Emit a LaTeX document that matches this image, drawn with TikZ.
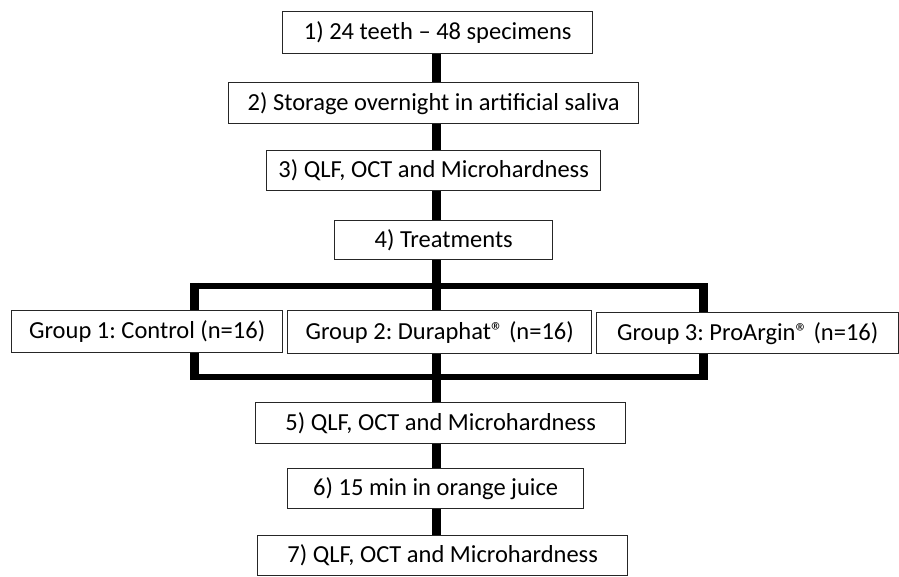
\documentclass[tikz,border=0pt]{standalone}
\usepackage{fontspec}
\setmainfont{Carlito}
\frenchspacing
\usetikzlibrary{calc}
\tikzset{
  stepbox/.style={draw=black!85, line width=1.4pt, rectangle, inner sep=0pt,
    anchor=north west, font=\fontsize{24.5}{28}\selectfont, text=black},
  vconn/.style={line width=9pt, black},
  hbar/.style={line width=6.5pt, black}
}
\begin{document}
\begin{tikzpicture}[x=1pt, y=-1pt]
\useasboundingbox (0,0) rectangle (899,577);
% main column of steps
\node[stepbox, minimum width=310pt, minimum height=42pt] (b1) at (282,11) {1) 24 teeth -- 48 specimens};
\node[stepbox, minimum width=410pt, minimum height=41pt] (b2) at (228,82) {2) Storage overnight in artificial saliva};
\node[stepbox, minimum width=334pt, minimum height=40pt] (b3) at (266,150) {3) QLF, OCT and Microhardness};
\node[stepbox, minimum width=218pt, minimum height=39pt] (b4) at (334,220) {4) Treatments};
% the three groups
\node[stepbox, minimum width=271pt, minimum height=42pt] (g1) at (11,310) {Group 1: Control (n=16)};
\node[stepbox, minimum width=304pt, minimum height=43pt] (g2) at (287,310) {Group 2: Duraphat® (n=16)};
\node[stepbox, minimum width=302pt, minimum height=41pt] (g3) at (596,312) {Group 3: ProArgin® (n=16)};
% steps after treatment
\node[stepbox, minimum width=370pt, minimum height=41pt] (b5) at (255,402) {5) QLF, OCT and Microhardness};
\node[stepbox, minimum width=296pt, minimum height=40pt] (b6) at (287,468) {6) 15 min in orange juice};
\node[stepbox, minimum width=370pt, minimum height=40pt] (b7) at (257,535) {7) QLF, OCT and Microhardness};
% guide lines for the connectors
\coordinate (spine) at (436,0);
\coordinate (lx) at (194.5,0);
\coordinate (rx) at (703,0);
\coordinate (topbar) at (0,286);
\coordinate (botbar) at (0,377);
% vertical links along the main column
\draw[vconn] (b1.south -| spine) -- (b2.north -| spine);
\draw[vconn] (b2.south -| spine) -- (b3.north -| spine);
\draw[vconn] (b3.south -| spine) -- (b4.north -| spine);
\draw[vconn] (b4.south -| spine) -- (g2.north -| spine);
\draw[vconn] (g2.south -| spine) -- (b5.north -| spine);
\draw[vconn] (b5.south -| spine) -- (b6.north -| spine);
\draw[vconn] (b6.south -| spine) -- (b7.north -| spine);
% split into the groups
\draw[hbar] ($(topbar -| lx)+(-4.5,0)$) -- ($(topbar -| rx)+(4.5,0)$);
\draw[vconn] ($(topbar -| lx)+(0,-3.25)$) -- (g1.north -| lx);
\draw[vconn] (topbar -| rx) -- (g3.north -| rx);
% merge of the groups
\draw[hbar] ($(botbar -| lx)+(-4.5,0)$) -- ($(botbar -| rx)+(4.5,0)$);
\draw[vconn] (g1.south -| lx) -- ($(botbar -| lx)+(0,3.25)$);
\draw[vconn] (g3.south -| rx) -- ($(botbar -| rx)+(0,3.25)$);
\end{tikzpicture}
\end{document}
